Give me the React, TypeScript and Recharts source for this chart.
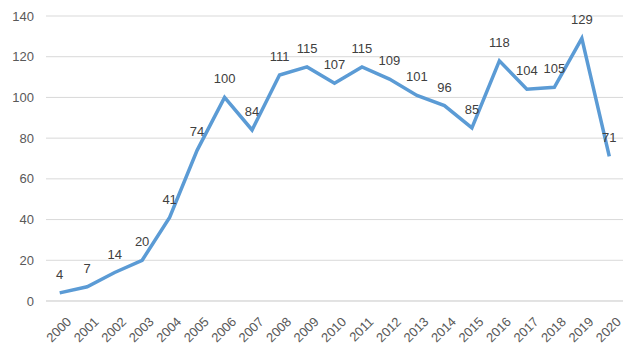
import React from "react";
import { LineChart, Line, XAxis, YAxis, CartesianGrid, LabelList } from "recharts";

const years = ["2000","2001","2002","2003","2004","2005","2006","2007","2008","2009","2010","2011","2012","2013","2014","2015","2016","2017","2018","2019","2020"];
const counts = [4,7,14,20,41,74,100,84,111,115,107,115,109,101,96,85,118,104,105,129,71];
const yTicks = [0,20,40,60,80,100,120,140];

const data = years.map((y, i) => ({ year: y, value: counts[i] }));

const FONT = "'Liberation Sans', Arial, sans-serif";

export default function App() {
  return (
    <div style={{ position: "absolute", left: 0, top: 0, background: "#fff" }}>
      <LineChart width={640} height={355} data={data} margin={{ top: 16, right: 17, left: 0, bottom: 0 }}>
        <CartesianGrid vertical={false} stroke="#d9d9d9" strokeWidth={1} />
        <XAxis
          dataKey="year"
          height={54}
          interval={0}
          padding={{ left: 13.7, right: 13.7 }}
          axisLine={{ stroke: "#d9d9d9" }}
          tickLine={false}
          angle={-45}
          textAnchor="end"
          tick={{ fill: "#595959", fontSize: 13, fontFamily: FONT }}
          tickMargin={9}
          dx={6}
        />
        <YAxis
          width={46}
          domain={[0, 140]}
          ticks={yTicks}
          axisLine={false}
          tickLine={false}
          tickSize={0}
          tickMargin={12}
          tick={{ fill: "#595959", fontSize: 13, fontFamily: FONT }}
        />
        <Line
          type="linear"
          dataKey="value"
          stroke="#5B9BD5"
          strokeWidth={3.5}
          dot={false}
          isAnimationActive={false}
        >
          <LabelList dataKey="value" position="top" offset={14} fill="#404040" fontSize={13} fontFamily={FONT} />
        </Line>
      </LineChart>
    </div>
  );
}
